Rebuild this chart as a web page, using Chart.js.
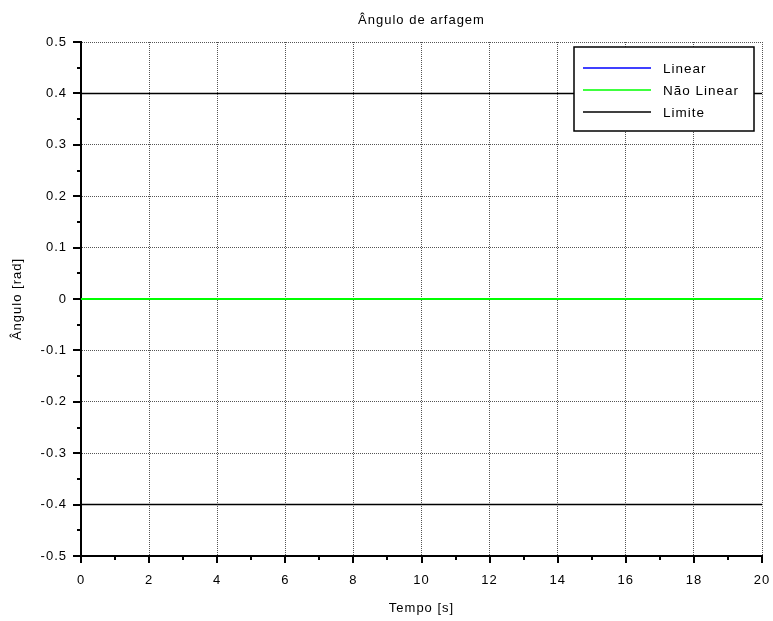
<!DOCTYPE html>
<html>
<head>
<meta charset="utf-8">
<title>Ângulo de arfagem</title>
<script src="https://cdn.jsdelivr.net/npm/chart.js@4.4.1/dist/chart.umd.min.js"></script>
<style>
    html, body { margin: 0; padding: 0; background: #ffffff; }
    #pitchChart { display: block; }
</style>
</head>
<body>
<canvas id="pitchChart" width="773" height="621"></canvas>
<script>
// Valores
const tempo = [0, 20];
const linear = [0, 0];
const naoLinear = [0, 0];
const limiteSup = [0.4, 0.4];
const limiteInf = [-0.4, -0.4];

const xTicks = [0, 2, 4, 6, 8, 10, 12, 14, 16, 18, 20];
const yTicks = [-0.5, -0.4, -0.3, -0.2, -0.1, 0, 0.1, 0.2, 0.3, 0.4, 0.5];

const titulo = 'Ângulo de arfagem';
const tituloX = 'Tempo [s]';
const tituloY = 'Ângulo [rad]';

const FONT = 'Liberation Sans';

function toPoints(xs, ys) {
    return xs.map((x, i) => ({ x: x, y: ys[i] }));
}

// Scilab-like text spacing
const textSpacing = {
    id: 'textSpacing',
    beforeDraw(chart) {
        chart.ctx.letterSpacing = '1px';
    }
};

// Major and minor tick marks outside the axes
const tickMarks = {
    id: 'tickMarks',
    afterDraw(chart) {
        const { ctx, chartArea, scales: { x, y } } = chart;
        ctx.save();
        ctx.strokeStyle = '#000000';
        ctx.lineWidth = 2;
        ctx.beginPath();
        xTicks.forEach((v, i) => {
            const px = Math.round(x.getPixelForValue(v));
            ctx.moveTo(px, chartArea.bottom);
            ctx.lineTo(px, chartArea.bottom + 7);
            if (i < xTicks.length - 1) {
                const pm = Math.round(x.getPixelForValue((v + xTicks[i + 1]) / 2));
                ctx.moveTo(pm, chartArea.bottom);
                ctx.lineTo(pm, chartArea.bottom + 4);
            }
        });
        yTicks.forEach((v, i) => {
            const py = Math.round(y.getPixelForValue(v));
            ctx.moveTo(chartArea.left, py);
            ctx.lineTo(chartArea.left - 8, py);
            if (i < yTicks.length - 1) {
                const pm = Math.round(y.getPixelForValue((v + yTicks[i + 1]) / 2));
                ctx.moveTo(chartArea.left, pm);
                ctx.lineTo(chartArea.left - 4, pm);
            }
        });
        ctx.stroke();
        ctx.restore();
    }
};

// Title centred over the plot area
const plotTitle = {
    id: 'plotTitle',
    afterDraw(chart) {
        const { ctx, chartArea } = chart;
        ctx.save();
        ctx.font = '13px "' + FONT + '"';
        ctx.fillStyle = '#000000';
        ctx.textAlign = 'center';
        ctx.textBaseline = 'alphabetic';
        ctx.fillText(titulo, (chartArea.left + chartArea.right) / 2, 24);
        ctx.restore();
    }
};

// Boxed legend in the upper right corner
const boxLegend = {
    id: 'boxLegend',
    afterDraw(chart) {
        const { ctx } = chart;
        const seen = {};
        const items = chart.data.datasets.filter(ds => {
            if (seen[ds.label]) return false;
            seen[ds.label] = true;
            return true;
        });
        const left = 574, top = 47, width = 180, height = 84;
        ctx.save();
        ctx.fillStyle = '#ffffff';
        ctx.fillRect(left, top, width, height);
        ctx.strokeStyle = '#000000';
        ctx.lineWidth = 1.5;
        ctx.strokeRect(left, top, width, height);
        ctx.font = '13.5px "' + FONT + '"';
        ctx.textAlign = 'left';
        ctx.textBaseline = 'middle';
        items.forEach((ds, i) => {
            const yy = 68 + i * 22;
            ctx.strokeStyle = ds.borderColor;
            ctx.lineWidth = 1.5;
            ctx.beginPath();
            ctx.moveTo(583, yy);
            ctx.lineTo(651, yy);
            ctx.stroke();
            ctx.fillStyle = '#000000';
            ctx.fillText(ds.label, 663, yy + 1);
        });
        ctx.restore();
    }
};

Chart.defaults.font.family = FONT;
Chart.defaults.font.size = 13;
Chart.defaults.color = '#000000';

const ctx = document.getElementById('pitchChart');

new Chart(ctx, {
    type: 'line',
    data: {
        datasets: [
            {
                label: 'Linear',
                data: toPoints(tempo, linear),
                borderColor: '#0000ff',
                borderWidth: 1.5,
                order: 1,
            },
            {
                label: 'Não Linear',
                data: toPoints(tempo, naoLinear),
                borderColor: '#00ff00',
                borderWidth: 2,
                order: 0,
            },
            {
                label: 'Limite',
                data: toPoints(tempo, limiteSup),
                borderColor: '#000000',
                borderWidth: 1.5,
                order: 2,
            },
            {
                label: 'Limite',
                data: toPoints(tempo, limiteInf),
                borderColor: '#000000',
                borderWidth: 1.5,
                order: 3,
            },
        ]
    },
    options: {
        responsive: false,
        animation: false,
        events: [],
        layout: {
            padding: { top: 42, right: 11, left: 0, bottom: 0 }
        },
        elements: {
            point: { radius: 0 },
            line: { tension: 0 }
        },
        plugins: {
            legend: { display: false },
            title: { display: false },
            tooltip: { enabled: false },
        },
        scales: {
            x: {
                type: 'linear',
                min: 0,
                max: 20,
                afterBuildTicks: scale => {
                    scale.ticks = xTicks.map(v => ({ value: v }));
                },
                afterFit: scale => {
                    scale.height = 65;
                    scale.paddingLeft = 0;
                    scale.paddingRight = 0;
                },
                ticks: {
                    autoSkip: false,
                    maxRotation: 0,
                    padding: 17,
                    callback: v => String(v),
                },
                grid: {
                    color: '#555555',
                    lineWidth: 1,
                    drawTicks: false,
                },
                border: {
                    display: true,
                    color: '#000000',
                    width: 2,
                    dash: [1, 1],
                },
                title: {
                    display: true,
                    text: tituloX,
                    padding: { top: 0, bottom: 5 },
                },
            },
            y: {
                type: 'linear',
                min: -0.5,
                max: 0.5,
                afterBuildTicks: scale => {
                    scale.ticks = yTicks.map(v => ({ value: v }));
                },
                afterFit: scale => {
                    scale.width = 81;
                    scale.paddingTop = 0;
                    scale.paddingBottom = 0;
                },
                ticks: {
                    autoSkip: false,
                    padding: 14,
                    callback: v => (Math.abs(v) < 1e-9 ? '0' : v.toFixed(1)),
                },
                grid: {
                    color: '#555555',
                    lineWidth: 1,
                    drawTicks: false,
                },
                border: {
                    display: true,
                    color: '#000000',
                    width: 2,
                    dash: [1, 1],
                },
                title: {
                    display: true,
                    text: tituloY,
                    padding: { top: 10, bottom: 0 },
                },
            }
        }
    },
    plugins: [textSpacing, tickMarks, plotTitle, boxLegend]
});
</script>
</body>
</html>
